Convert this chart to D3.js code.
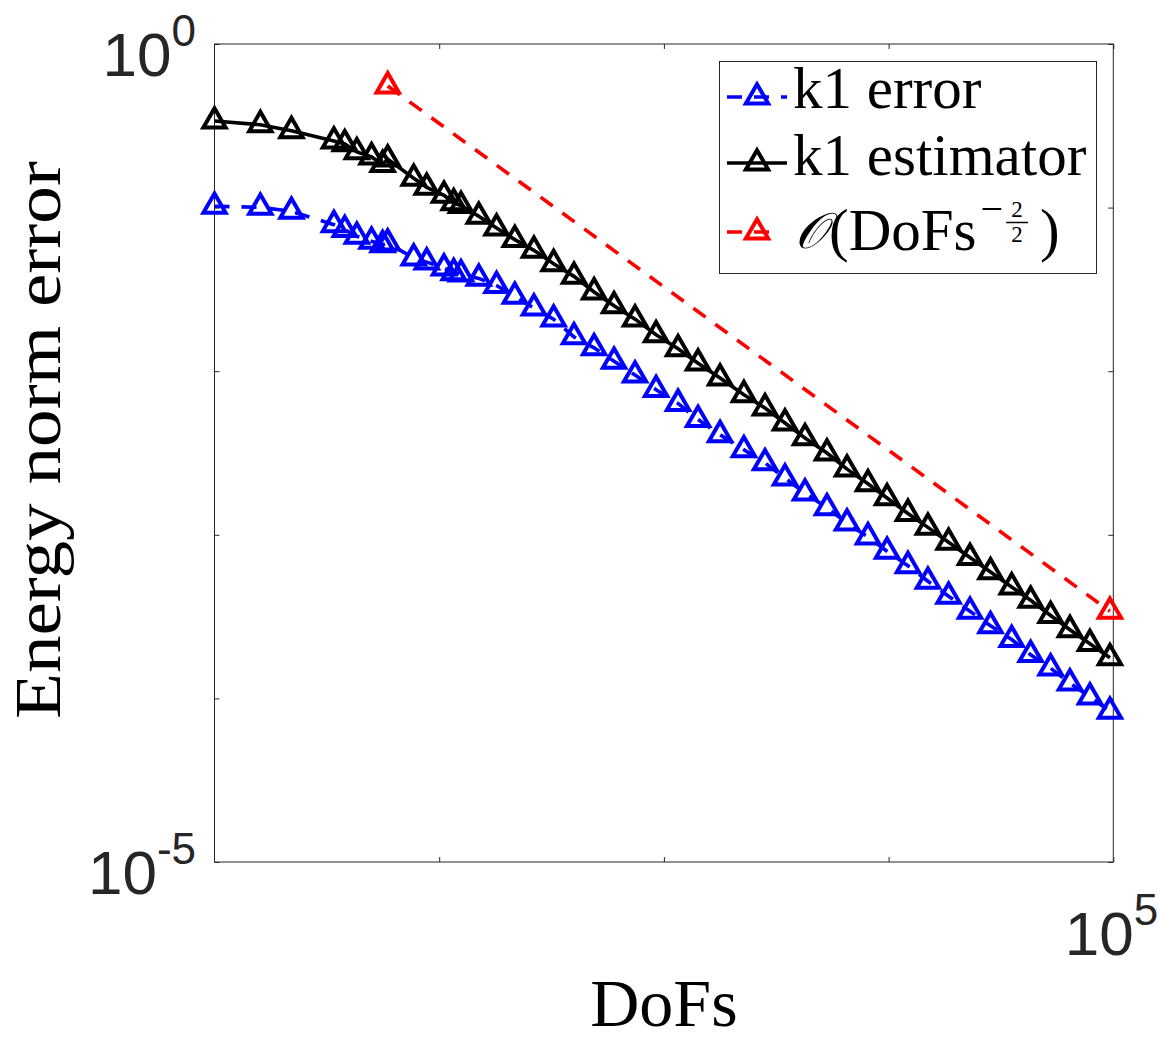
<!DOCTYPE html>
<html><head><meta charset="utf-8">
<script src="https://cdn.jsdelivr.net/npm/d3@7"></script>
<style>body{margin:0;background:#fff} svg{display:block}</style>
</head><body>
<svg id="chart" width="1160" height="1048"></svg>
<script>
// ---- data ----
const dofs = [10, 16, 22, 34, 38, 43, 50, 56, 59, 77, 88, 105, 116, 125, 150, 180, 217, 264, 323, 398,
  489, 600, 744, 923, 1156, 1419, 1778, 2270, 2818, 3458, 4246, 5318, 6531, 8094, 9841, 12190,
  14960, 18490, 23030, 28410, 35300, 42870, 52600, 64120, 78690, 96600];
const k1Error = [0.1019, 0.1004, 0.0949, 0.0786, 0.0733, 0.0668, 0.0622, 0.0593, 0.0607, 0.0492,
  0.0464, 0.0427, 0.0400, 0.0393, 0.0369, 0.0334, 0.0287, 0.0243, 0.0208, 0.0162,
  0.0139, 0.01149, 0.00948, 0.00771, 0.00635, 0.00506, 0.00409, 0.00331, 0.00275, 0.00222,
  0.00180, 0.00146, 0.00118, 0.000970, 0.000793, 0.000647, 0.000520, 0.000421, 0.000341, 0.000278,
  0.000229, 0.000185, 0.000153, 0.000124, 0.000102, 0.0000834];
const k1Estimator = [0.338, 0.321, 0.295, 0.255, 0.245, 0.219, 0.204, 0.183, 0.198, 0.151,
  0.133, 0.119, 0.107, 0.103, 0.0885, 0.0750, 0.0637, 0.0548, 0.0454, 0.0380,
  0.0305, 0.0251, 0.0208, 0.0167, 0.0137, 0.0112, 0.00908, 0.00718, 0.00596, 0.00482,
  0.00391, 0.00316, 0.00252, 0.00205, 0.00168, 0.00135, 0.00111, 0.000900, 0.000726, 0.000593,
  0.000480, 0.000398, 0.000321, 0.000263, 0.000216, 0.000177];
const refDofs = [59, 96600];
const refValues = [0.554, 0.000341];
const xTicks = [1e2, 1e3, 1e4, 1e5];
const xTickLabels = ["", "", "", "10^5"];
const yTicks = [1e-5, 1e-4, 1e-3, 1e-2, 1e-1, 1e0];
const yTickLabels = ["10^-5", "", "", "", "", "10^0"];
const xLabel = "DoFs";
const yLabel = "Energy norm error";
const legendLabels = ["k1 error", "k1 estimator"];

// ---- layout ----
const L = 214.5, R = 1113.3, T = 44, B = 862;
const svg = d3.select("#chart");
const x = d3.scaleLog().domain([10, 1e5]).range([L, R]);
const y = d3.scaleLog().domain([1e-5, 1]).range([B, T]);
const axisColor = "#262626";
const serif = "'Liberation Serif', 'Times New Roman', serif";
const sans = "'Liberation Sans', Arial, Helvetica, sans-serif";
const lw = 3.6, mw = 4;

// ticks (inward)
const tk = 5;
function styleAxis(g){ g.select(".domain").remove(); g.selectAll("line").attr("stroke", axisColor).attr("stroke-width",1); g.selectAll("text").remove(); }
svg.append("g").attr("transform",`translate(0,${B})`).call(d3.axisBottom(x).tickValues(xTicks).tickSize(-tk).tickFormat("")).call(styleAxis);
svg.append("g").attr("transform",`translate(0,${T})`).call(d3.axisTop(x).tickValues(xTicks).tickSize(-tk).tickFormat("")).call(styleAxis);
svg.append("g").attr("transform",`translate(${L},0)`).call(d3.axisLeft(y).tickValues(yTicks).tickSize(-tk).tickFormat("")).call(styleAxis);
svg.append("g").attr("transform",`translate(${R},0)`).call(d3.axisRight(y).tickValues(yTicks).tickSize(-tk).tickFormat("")).call(styleAxis);

// box
svg.append("rect").attr("x",L).attr("y",T).attr("width",R-L).attr("height",B-T)
  .attr("fill","none").attr("stroke",axisColor).attr("stroke-width",1);

// tick labels with superscripts
function powLabel(g, str, px, py, anchor){
  const [base, exp] = str.split("^");
  const t = g.append("text").attr("font-family",sans).attr("fill",axisColor).attr("font-size",62)
    .attr("x",px).attr("y",py).attr("text-anchor",anchor);
  t.append("tspan").text(base);
  t.append("tspan").attr("font-size",44).attr("dy",-30).text(exp);
  return t;
}
const gl = svg.append("g");
yTicks.forEach((v,i)=>{ if(yTickLabels[i]) powLabel(gl, yTickLabels[i], 196, y(v)+32, "end"); });
xTicks.forEach((v,i)=>{ if(xTickLabels[i]) powLabel(gl, xTickLabels[i], x(v)+45, 955, "end"); });

// axis labels
svg.append("text").attr("x",(L+R)/2).attr("y",1026).attr("text-anchor","middle")
  .attr("font-family",serif).attr("font-size",68).attr("fill","#000").text(xLabel);
svg.append("text").attr("transform",`translate(60,440) rotate(-90)`).attr("text-anchor","middle")
  .attr("font-family",serif).attr("font-size",66).attr("fill","#000")
  .attr("textLength",558).attr("lengthAdjust","spacingAndGlyphs").text(yLabel);

// series
const tri = d3.symbol().type(d3.symbolTriangle).size(215);
function series(xs, ys, color, dash){
  const g = svg.append("g");
  const pts = xs.map((d,i)=>[x(d), y(ys[i])]);
  g.append("path").attr("d", d3.line()(pts)).attr("fill","none").attr("stroke",color)
    .attr("stroke-width",lw).attr("stroke-dasharray", dash || null);
  g.selectAll("path.m").data(pts).join("path").attr("class","m")
    .attr("transform",d=>`translate(${d[0]},${d[1]})`).attr("d",tri)
    .attr("fill","none").attr("stroke",color).attr("stroke-width",mw).attr("stroke-linejoin","miter");
}
series(dofs, k1Error, "#0000ff", "15,12");
series(dofs, k1Estimator, "#000000", null);
series(refDofs, refValues, "#ff0000", "15,12");

// legend
const lg = svg.append("g");
lg.append("rect").attr("x",719.5).attr("y",61.5).attr("width",377).attr("height",212)
  .attr("fill","#fff").attr("stroke",axisColor).attr("stroke-width",1);
const rows = [{c:"#0000ff", d:"15,12", ly:97, ty:108, x2:787},
              {c:"#000000", d:null, ly:163, ty:175, x2:787},
              {c:"#ff0000", d:"15,12", ly:232, ty:250, x2:775}];
rows.forEach((r,i)=>{
  lg.append("line").attr("x1",727).attr("x2",r.x2).attr("y1",r.ly).attr("y2",r.ly)
    .attr("stroke",r.c).attr("stroke-width",lw).attr("stroke-dasharray",r.d);
  lg.append("path").attr("transform",`translate(757,${r.ly})`).attr("d",tri)
    .attr("fill","none").attr("stroke",r.c).attr("stroke-width",mw);
  if(i<2){
    lg.append("text").attr("x",793).attr("y",r.ty).attr("font-family",serif).attr("font-size",59)
      .attr("fill","#000").text(legendLabels[i]);
  }
});
// O(DoFs^{-2/2})
(function(){
  const by = 250;
  let cx = 795;
  const o = lg.append("text").attr("x",cx).attr("y",by-2).attr("font-family","'DejaVu Serif', serif")
    .attr("font-style","italic").attr("font-size",50).attr("fill","#000").text("\u{1D4AA}");
  cx += o.node().getComputedTextLength() + 3;
  const p = lg.append("text").attr("x",cx).attr("y",by).attr("font-family",serif)
    .attr("font-size",59).attr("fill","#000").text("(DoFs");
  cx += p.node().getComputedTextLength() + 4;
  const m = lg.append("text").attr("x",cx).attr("y",by-28).attr("font-family",serif)
    .attr("font-size",40).attr("fill","#000").text("\u2212");
  cx += m.node().getComputedTextLength() + 3;
  const fw = 22;
  lg.append("text").attr("x",cx+fw/2).attr("y",217).attr("text-anchor","middle").attr("font-family",serif)
    .attr("font-size",23).attr("fill","#000").text("2");
  lg.append("line").attr("x1",cx).attr("x2",cx+fw).attr("y1",222.5).attr("y2",222.5)
    .attr("stroke","#000").attr("stroke-width",1.5);
  lg.append("text").attr("x",cx+fw/2).attr("y",242).attr("text-anchor","middle").attr("font-family",serif)
    .attr("font-size",23).attr("fill","#000").text("2");
  cx += fw + 12;
  lg.append("text").attr("x",cx).attr("y",by).attr("font-family",serif)
    .attr("font-size",59).attr("fill","#000").text(")");
})();
</script>
</body></html>
